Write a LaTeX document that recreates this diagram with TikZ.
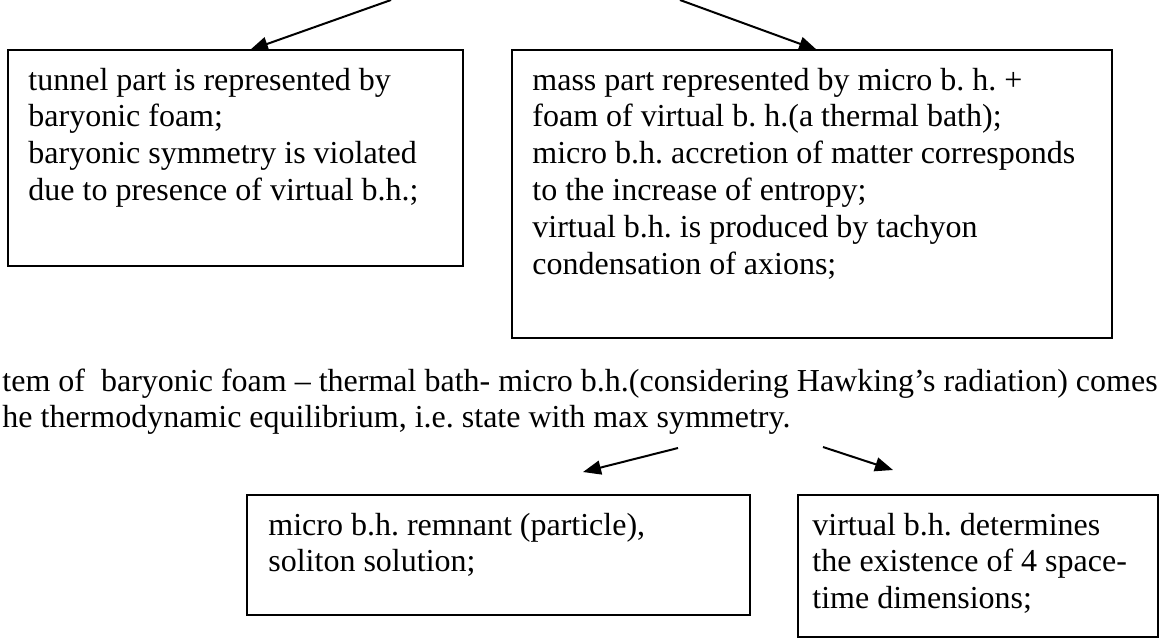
\documentclass[tikz,border=0pt]{standalone}
\usepackage{fontspec}
\setmainfont{Liberation Serif}
\usetikzlibrary{fit,arrows.meta}
\frenchspacing
\begin{document}
\begin{tikzpicture}[x=0.5pt,y=-0.5pt,
  box/.style={draw=black, line width=1pt, inner sep=0pt, rectangle},
  txt/.style={inner sep=0pt, anchor=base west, font=\fontsize{16}{18.4}\selectfont},
  arr/.style={line width=1pt, -{Triangle[length=9pt,width=7pt]}}]
\useasboundingbox (0,0) rectangle (1160,639);
% boxes
\node[box, fit={(8,50) (463,266)}] (b1) {};
\node[box, fit={(512,50) (1112,338)}] (b2) {};
\node[box, fit={(247,495) (750,615)}] (b3) {};
\node[box, fit={(798,495) (1158,637)}] (b4) {};
% texts
\node[txt] (t1) at (28,90) {\begin{tabular}[t]{@{}l@{}}tunnel part is represented by\\ baryonic foam;\\ baryonic symmetry is violated\\ due to presence of virtual b.h.;\end{tabular}};
\node[txt] (t2) at (532,90) {\begin{tabular}[t]{@{}l@{}}mass part represented by micro b. h. +\\ foam of virtual b. h.(a thermal bath);\\ micro b.h. accretion of matter corresponds\\ to the increase of entropy;\\ virtual b.h. is produced by tachyon\\ condensation of axions;\end{tabular}};
\node[txt] (p) at (2,391) {\begin{tabular}[t]{@{}l@{}}tem of\ \ baryonic foam – thermal bath- micro b.h.(considering Hawking’s radiation) comes\\ he thermodynamic equilibrium, i.e. state with max symmetry.\end{tabular}};
\node[txt] (t3) at (268,535) {\begin{tabular}[t]{@{}l@{}}micro b.h. remnant (particle),\\ soliton solution;\end{tabular}};
\node[txt] (t4) at (812,535) {\begin{tabular}[t]{@{}l@{}}virtual b.h. determines\\ the existence of 4 space-\\ time dimensions;\end{tabular}};
% arrows
\coordinate (a1s) at (391,0);
\coordinate (a1e) at (250,50);
\coordinate (a2s) at (680,0);
\coordinate (a2e) at (817,50);
\coordinate (a3s) at (678,448);
\coordinate (a3e) at (583,472);
\coordinate (a4s) at (823,447);
\coordinate (a4e) at (893,470);
\draw[arr] (a1s) -- (a1e);
\draw[arr] (a2s) -- (a2e);
\draw[arr] (a3s) -- (a3e);
\draw[arr] (a4s) -- (a4e);
\end{tikzpicture}
\end{document}
